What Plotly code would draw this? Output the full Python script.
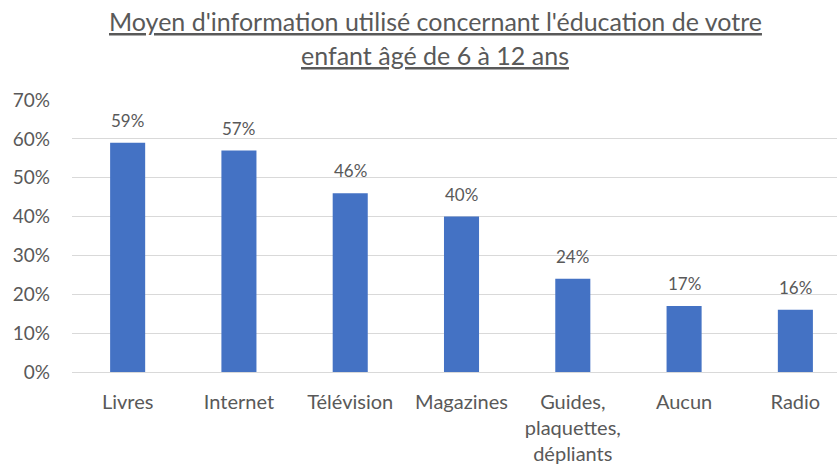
import plotly.graph_objects as go

# Information sources used for the education of a 6-12 year-old child
categories = ["Livres", "Internet", "Télévision", "Magazines",
              "Guides,<br>plaquettes,<br>dépliants", "Aucun", "Radio"]
shares = [0.59, 0.57, 0.46, 0.40, 0.24, 0.17, 0.16]
y_ticks = [0, 0.1, 0.2, 0.3, 0.4, 0.5, 0.6, 0.7]
title_lines = ["Moyen d'information utilisé concernant l'éducation de votre",
               "enfant âgé de 6 à 12 ans"]

FONT = "Lato"
GREY = "#595959"
PLOT_LEFT, PLOT_W = 72, 765
PLOT_TOP, PLOT_H = 100, 272

x_pos = list(range(len(categories)))

fig = go.Figure(
    go.Bar(
        x=x_pos,
        y=shares,
        width=0.315,
        marker=dict(color="#4472C4", line=dict(width=0)),
        hoverinfo="skip",
    )
)

# value labels above each bar
for xi, v in zip(x_pos, shares):
    fig.add_annotation(
        x=xi, y=v, text=f"{round(v * 100)}%",
        showarrow=False, yanchor="bottom", yshift=10,
        font=dict(family=FONT, size=17, color=GREY),
    )

# underlined two-line title
for line, top_px in zip(title_lines, [4, 38]):
    fig.add_annotation(
        xref="paper", yref="paper",
        x=(435 - PLOT_LEFT) / PLOT_W, y=1 + (PLOT_TOP - top_px) / PLOT_H,
        xanchor="center", yanchor="top",
        text=f"<u>{line}</u>", showarrow=False,
        font=dict(family=FONT, size=25, color=GREY),
    )

fig.update_layout(
    width=837,
    height=468,
    margin=dict(l=PLOT_LEFT, r=0, t=PLOT_TOP, b=96),
    paper_bgcolor="white",
    plot_bgcolor="white",
    showlegend=False,
    font=dict(family=FONT, color=GREY),
)

fig.update_xaxes(
    tickmode="array",
    tickvals=x_pos,
    ticktext=categories,
    range=[-0.5, 6.374],
    showgrid=False,
    showline=True,
    linecolor="#D9D9D9",
    linewidth=1,
    ticks="",
    ticklabelstandoff=12,
    tickfont=dict(family=FONT, size=20, color=GREY),
)

fig.update_yaxes(
    range=[0, 0.7],
    tickvals=y_ticks,
    tickformat=".0%",
    showgrid=True,
    gridcolor="#D9D9D9",
    gridwidth=1,
    zeroline=False,
    ticks="",
    ticklabelstandoff=21,
    tickfont=dict(family=FONT, size=19, color=GREY),
)

fig.write_html("out.html")
